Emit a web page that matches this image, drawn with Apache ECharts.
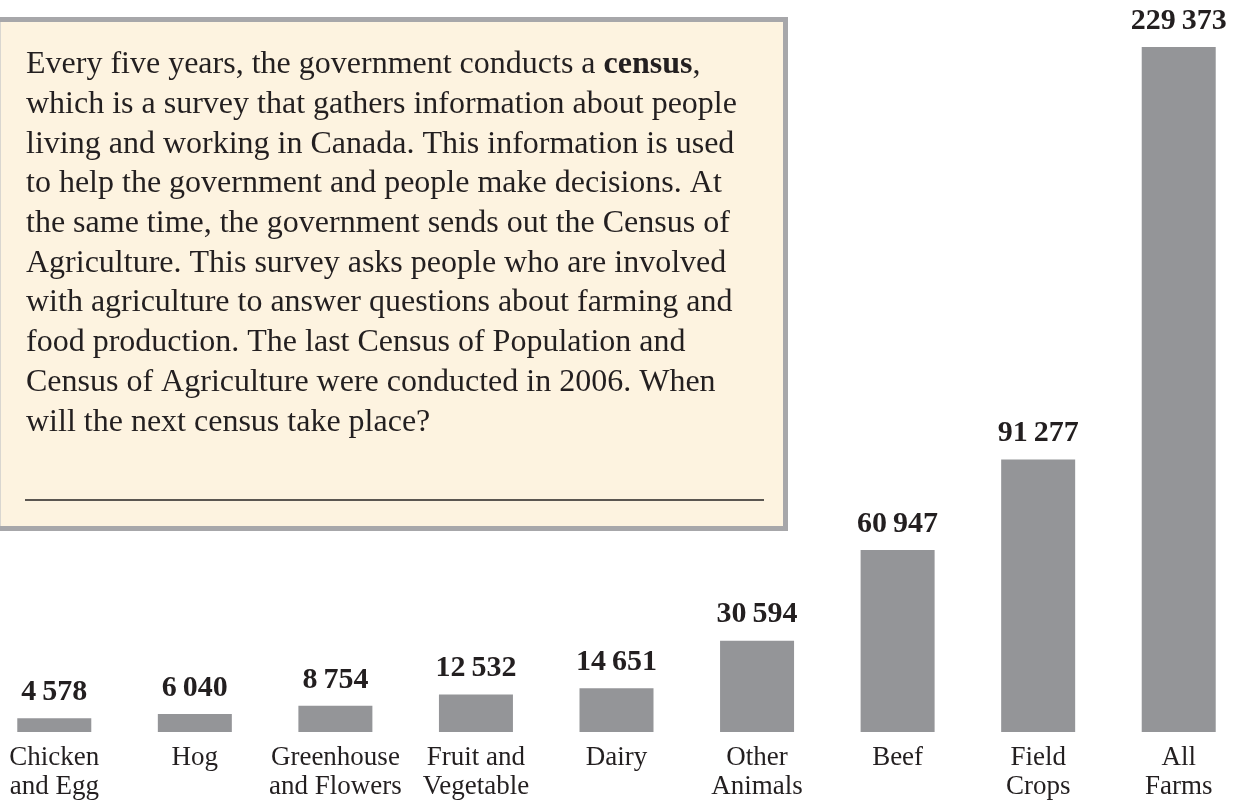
<!DOCTYPE html>
<html>
<head>
<meta charset="utf-8">
<title>Farms by type</title>
<script src="https://cdn.jsdelivr.net/npm/echarts@6/dist/echarts.min.js"></script>
<style>
  html, body { margin: 0; padding: 0; background: #fff; }
  #chart { width: 1243px; height: 809px; }
</style>
</head>
<body>
<div id="chart"></div>
<script>
// farm types, left to right
const categories = ['Chicken\nand Egg', 'Hog', 'Greenhouse\nand Flowers', 'Fruit and\nVegetable',
  'Dairy', 'Other\nAnimals', 'Beef', 'Field\nCrops', 'All\nFarms'];
// number of farms
const farms = [4578, 6040, 8754, 12532, 14651, 30594, 60947, 91277, 229373];

const boxLines = [
  'Every five years, the government conducts a {b|census},',
  'which is a survey that gathers information about people',
  'living and working in Canada. This information is used',
  'to help the government and people make decisions. At',
  'the same time, the government sends out the Census of',
  'Agriculture. This survey asks people who are involved',
  'with agriculture to answer questions about farming and',
  'food production. The last Census of Population and',
  'Census of Agriculture were conducted in 2006. When',
  'will the next census take place?'
];

const serif = "'Liberation Serif', 'DejaVu Serif', serif";
const ink = '#231f20';

function thin(v) {
  return String(v).replace(/\B(?=(\d{3})+(?!\d))/g, '\u2009');
}

const chart = echarts.init(document.getElementById('chart'));
chart.setOption({
  animation: false,
  grid: { left: -16, right: -6, top: 47, bottom: 77, outerBoundsMode: 'none', containLabel: false },
  xAxis: {
    type: 'category',
    data: categories,
    axisLine: { show: false },
    axisTick: { show: false },
    axisLabel: {
      interval: 0,
      margin: 11,
      fontFamily: serif,
      fontSize: 27,
      lineHeight: 29,
      color: ink
    }
  },
  yAxis: {
    type: 'value',
    min: 0,
    max: 'dataMax',
    show: false,
    splitLine: { show: false }
  },
  series: [{
    type: 'bar',
    data: farms,
    barWidth: 74,
    itemStyle: { color: '#949598' },
    label: {
      show: true,
      position: 'top',
      distance: 11,
      fontFamily: serif,
      fontWeight: 'bold',
      fontSize: 30,
      color: ink,
      formatter: p => thin(p.value)
    }
  }],
  graphic: [
    { type: 'rect', shape: { x: 0, y: 17, width: 788, height: 514 }, style: { fill: '#a7a7aa' }, z: 10 },
    { type: 'rect', shape: { x: 0, y: 22, width: 783, height: 504 }, style: { fill: '#fdf3e0' }, z: 11 },
    { type: 'line', shape: { x1: 0.5, y1: 22, x2: 0.5, y2: 526 }, style: { stroke: '#d9d6d0', lineWidth: 1 }, z: 12 },
    {
      type: 'text', x: 26, y: 45, z: 12,
      style: {
        text: boxLines.join('\n'),
        fontFamily: serif,
        fontSize: 32,
        lineHeight: 39.7,
        fill: ink,
        verticalAlign: 'top',
        rich: {
          b: { fontFamily: serif, fontSize: 32, lineHeight: 39.7, fontWeight: 'bold', fill: ink }
        }
      }
    },
    { type: 'line', shape: { x1: 25, y1: 500, x2: 764, y2: 500 }, style: { stroke: '#5b5651', lineWidth: 2 }, z: 12 }
  ]
});
</script>
</body>
</html>
